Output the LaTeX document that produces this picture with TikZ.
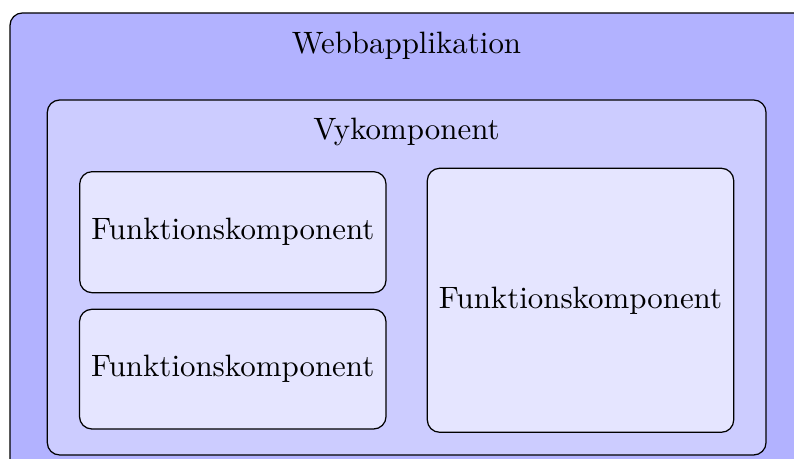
\documentclass[tikz,border=0pt]{standalone}
\usetikzlibrary{positioning}

% one drawing unit = one pixel of the 794 x 459 canvas
\newcommand{\pxu}{0.3236pt}

\tikzset{
  layer/.style={draw=black, line width=0.4pt, rounded corners=4pt,
                inner sep=0pt, outer sep=0pt},
  appbox/.style={layer, fill=blue!30},
  viewbox/.style={layer, fill=blue!20},
  funcbox/.style={layer, fill=blue!10, align=center},
  caption/.style={anchor=base, inner sep=0pt}
}

\begin{document}
\begin{tikzpicture}[x=\pxu, y=-\pxu]
  \useasboundingbox (0,0) rectangle (794,459);
  \clip (0,0) rectangle (794,459);

  % application frame, running past the right and lower edges
  \node[appbox, minimum width=820*\pxu, minimum height=480*\pxu, anchor=north west]
    (app) at (10,13) {};
  \node[caption] (apptitle) at (406.5,53.3) {Webbapplikation};

  % view component
  \node[viewbox, minimum width=718.7*\pxu, minimum height=355*\pxu]
    (view) at (406.65,277.5) {};
  \node[caption] (viewtitle) at (406.5,139.3) {Vykomponent};

  % function components
  \node[funcbox, minimum width=306.3*\pxu, minimum height=121*\pxu]
    (f1) at (232.85,232.2) {Funktionskomponent};
  \node[funcbox, minimum width=306.5*\pxu, minimum height=119.7*\pxu]
    (f2) at (232.75,369.15) {Funktionskomponent};
  \node[funcbox, minimum width=306.4*\pxu, minimum height=264*\pxu]
    (f3) at (580.5,300.3) {Funktionskomponent};
\end{tikzpicture}
\end{document}
